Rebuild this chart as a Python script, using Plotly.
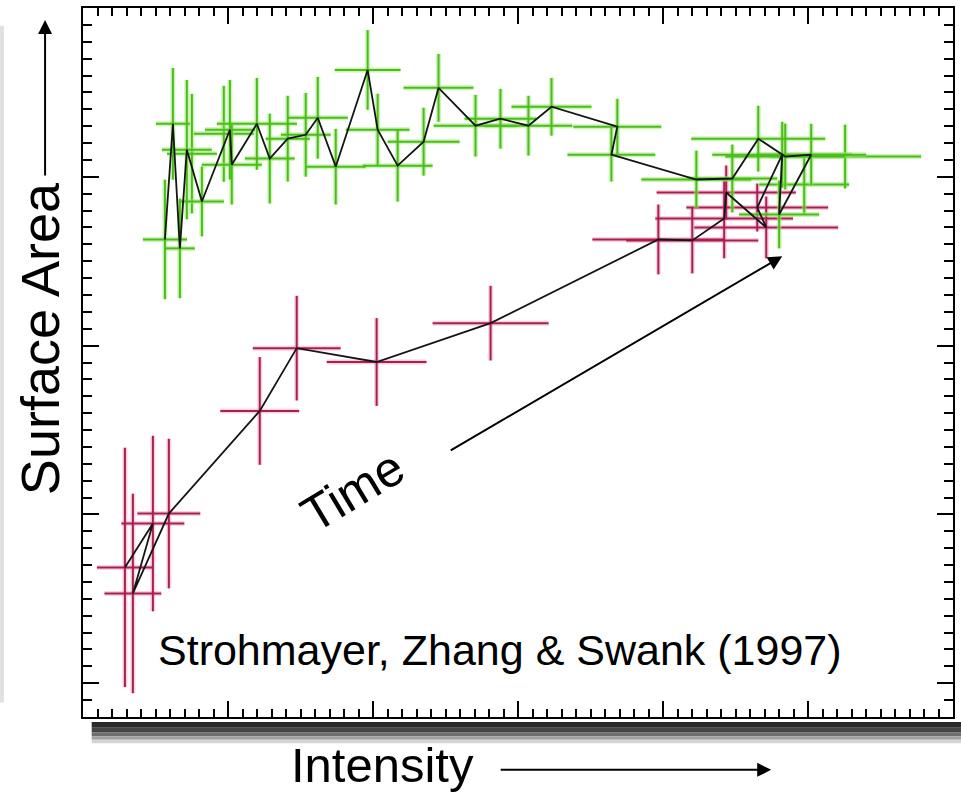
import plotly.graph_objects as go

# ---------------- data (arbitrary units: x = intensity, y = surface area) ----------------
# Rising phase (red), in time order
red_x  = [2.89, 4.82, 3.44, 5.92, 12.19, 14.74, 20.25, 28.11, 39.68, 42.02, 44.22, 44.36, 47.12, 46.50]
red_y  = [8.86, 11.46, 7.32, 12.05, 18.13, 21.85, 21.03, 23.33, 28.29, 28.23, 29.53, 31.07, 29.00, 30.18]
red_ex = [1.93, 2.17, 1.96, 2.17, 2.72, 3.03, 3.44, 4.00, 4.55, 4.55, 4.75, 4.80, 4.96, 4.89]
red_ey = [7.09, 5.20, 5.91, 4.43, 3.19, 3.10, 2.60, 2.21, 2.07, 1.95, 2.36, 1.60, 1.83, 1.42]

# Decay phase (green), in time order
green_x  = [48.22, 48.01, 50.22, 48.43, 46.57, 44.78, 42.30, 36.44, 36.85, 32.31, 30.72, 28.79, 27.07,
            24.52, 23.49, 21.70, 20.32, 19.63, 17.43, 16.19, 15.36, 14.12, 12.88, 11.99, 10.26, 10.13,
            8.20, 7.16, 6.68, 6.20, 5.65]
green_y  = [33.31, 29.77, 33.31, 33.20, 34.26, 31.90, 31.84, 33.31, 34.97, 36.15, 35.03, 35.44, 35.03,
            37.27, 34.08, 32.66, 34.79, 38.33, 32.60, 35.50, 34.49, 34.26, 33.08, 35.14, 32.72, 34.79,
            30.54, 33.61, 27.76, 35.14, 28.29]
green_ex = [4.82, 2.76, 3.79, 4.13, 4.62, 3.10, 3.79, 3.03, 3.03, 2.76, 3.03, 2.48, 2.89,
            2.41, 2.48, 2.41, 2.20, 2.27, 2.07, 2.07, 1.72, 1.52, 1.72, 2.76, 2.07, 1.72,
            1.52, 1.72, 1.03, 1.17, 1.52]
green_ey = [1.95, 2.01, 1.83, 1.95, 1.95, 2.01, 1.71, 1.59, 1.65, 1.71, 1.77, 1.77, 1.83,
            2.01, 2.01, 2.13, 2.13, 2.36, 2.24, 2.42, 2.48, 2.54, 2.66, 2.72, 2.36, 2.95,
            2.07, 4.13, 2.95, 3.31, 3.54]

# Additional green measurements off the connecting track
green_extra_x  = [52.56, 49.74, 7.51, 9.71]
green_extra_y  = [33.20, 31.54, 33.37, 34.55]
green_extra_ex = [5.24, 3.10, 1.72, 2.07]
green_extra_ey = [1.89, 1.77, 3.54, 2.84]

citation = "Strohmayer, Zhang & Swank (1997)"
x_label = "Intensity"
y_label = "Surface Area"
arrow_label = "Time"

# ---------------- styling ----------------
FONT = "Liberation Sans, Arial, Helvetica, sans-serif"
RED = "#a8204f"
RED_GLOW = "rgba(240,150,190,0.45)"
GREEN = "#4dbb1c"
GREEN_GLOW = "rgba(150,235,110,0.5)"

fig = go.Figure()


def add_crosses(x, y, ex, ey, color, glow):
    # soft halo
    fig.add_trace(go.Scatter(
        x=x, y=y, mode="markers", marker=dict(size=0, color="rgba(0,0,0,0)"),
        error_x=dict(type="data", array=ex, visible=True, thickness=5, width=0, color=glow),
        error_y=dict(type="data", array=ey, visible=True, thickness=5, width=0, color=glow),
        hoverinfo="skip", showlegend=False))
    # core bars
    fig.add_trace(go.Scatter(
        x=x, y=y, mode="markers", marker=dict(size=0, color="rgba(0,0,0,0)"),
        error_x=dict(type="data", array=ex, visible=True, thickness=2, width=0, color=color),
        error_y=dict(type="data", array=ey, visible=True, thickness=2, width=0, color=color),
        showlegend=False))


add_crosses(red_x, red_y, red_ex, red_ey, RED, RED_GLOW)
add_crosses(green_extra_x, green_extra_y, green_extra_ex, green_extra_ey, GREEN, GREEN_GLOW)
add_crosses(green_x, green_y, green_ex, green_ey, GREEN, GREEN_GLOW)

# connecting track through time
fig.add_trace(go.Scatter(
    x=red_x + green_x, y=red_y + green_y, mode="lines",
    line=dict(color="#151515", width=1.8), showlegend=False))

axis_common = dict(
    showgrid=False, zeroline=False, showticklabels=False,
    showline=True, linecolor="black", linewidth=2, mirror="allticks",
    ticks="inside", tickcolor="black", tickwidth=1.8, ticklen=16,
)

fig.update_layout(
    width=961, height=793,
    margin=dict(l=83, r=7, t=6, b=76),
    paper_bgcolor="white", plot_bgcolor="white",
    xaxis=dict(range=[0, 60], tick0=0, dtick=10,
               minor=dict(dtick=1, ticks="inside", ticklen=8, tickwidth=1.6, tickcolor="black"),
               **axis_common),
    yaxis=dict(range=[0, 42], tick0=2, dtick=10,
               minor=dict(tick0=0, dtick=1, ticks="inside", ticklen=9, tickwidth=1.6, tickcolor="black"),
               **axis_common),
    font=dict(family=FONT, color="black"),
)

# frame shadow (bottom) and faint left border
shadow_bands = [(-0.0070, -0.0150, "#2a2a2a"), (-0.0150, -0.0215, "#444444"),
                (-0.0215, -0.0270, "#6e6e6e"), (-0.0270, -0.0320, "#a0a0a0"),
                (-0.0320, -0.0370, "#d4d4d4")]
for y0, y1, c in shadow_bands:
    fig.add_shape(type="rect", xref="paper", yref="paper", x0=0.010, x1=1.01, y0=y1, y1=y0,
                  fillcolor=c, line=dict(width=0), layer="below")
fig.add_shape(type="rect", xref="paper", yref="paper", x0=-0.0953, x1=-0.0910, y0=0.02, y1=0.975,
              fillcolor="#e0e0e0", line=dict(width=0), layer="below")

# labels
fig.add_annotation(text=y_label, xref="paper", yref="paper", x=-0.0494, y=0.533,
                   xanchor="center", yanchor="middle",
                   textangle=-90, showarrow=False, font=dict(size=54, family=FONT))
fig.add_annotation(text="", xref="paper", yref="paper", x=-0.0436, y=0.9831,
                   ax=0, ay=157, showarrow=True, arrowhead=2, arrowsize=1.4, arrowwidth=2,
                   arrowcolor="black")

fig.add_annotation(text=x_label, xref="paper", yref="paper", x=0.3444, y=-0.0675,
                   xanchor="center", yanchor="middle",
                   showarrow=False, font=dict(size=49, family=FONT))
fig.add_annotation(text="", xref="paper", yref="paper", x=0.791, y=-0.0745,
                   ax=-272, ay=0, showarrow=True, arrowhead=2, arrowsize=1.4, arrowwidth=2,
                   arrowcolor="black")

fig.add_annotation(text=arrow_label, xref="paper", yref="paper", x=0.31, y=0.319,
                   xanchor="center", yanchor="middle",
                   textangle=-31, showarrow=False, font=dict(size=50, family=FONT))
fig.add_annotation(text="", xref="paper", yref="paper", x=0.8037, y=0.6498,
                   ax=-333, ay=195, showarrow=True, arrowhead=2, arrowsize=1.4, arrowwidth=2,
                   arrowcolor="black")

fig.add_annotation(text=citation, xref="paper", yref="paper", x=0.4788, y=0.0942,
                   xanchor="center", yanchor="middle",
                   showarrow=False, font=dict(size=43, family=FONT))

fig.write_html("out.html")
